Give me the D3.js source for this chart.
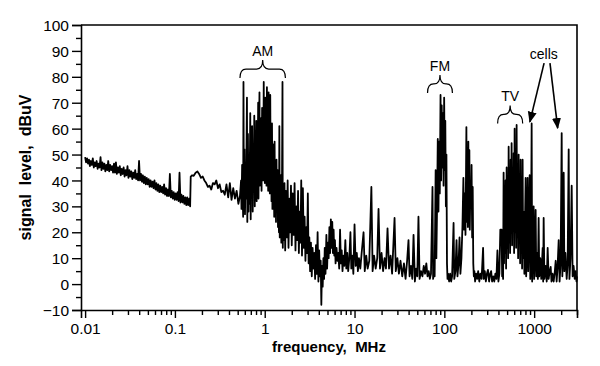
<!DOCTYPE html>
<html>
<head>
<meta charset="utf-8">
<script src="https://cdn.jsdelivr.net/npm/d3@7"></script>
<style>
    body { margin: 0; background: #fff; }
    svg { display: block; }
    text { font-family: "Liberation Sans", Arial, Helvetica, sans-serif; fill: #000; }
</style>
</head>
<body>
<svg id="chart" width="600" height="366"></svg>
<script>
// tick labels
const xTicks = [0.01, 0.1, 1, 10, 100, 1000]
const yTicks = [-10, 0, 10, 20, 30, 40, 50, 60, 70, 80, 90, 100]

const lowBand = [
    [0.0100, 49], [0.01025, 47], [0.01051, 48.5], [0.01077, 46.5], [0.01104, 48], [0.01131, 45.5],
    [0.0116, 47.5], [0.01189, 46], [0.01218, 48.5], [0.01249, 45], [0.0128, 47], [0.01312, 45.5],
    [0.01345, 47.5], [0.01379, 44.5], [0.01413, 46.5], [0.01448, 45], [0.01485, 49], [0.01522, 44],
    [0.0156, 47], [0.01599, 44.5], [0.01639, 46.5], [0.0168, 43.5], [0.01722, 46], [0.01765, 44],
    [0.01809, 47.5], [0.01854, 43.5], [0.019, 46], [0.01948, 44], [0.01997, 45.5], [0.02047, 43],
    [0.02098, 46.5], [0.0215, 43], [0.02204, 47], [0.02259, 42.5], [0.02316, 45], [0.02374, 43],
    [0.02433, 45.5], [0.02494, 42], [0.02556, 44.5], [0.0262, 42.5], [0.02686, 45], [0.02753, 41.5],
    [0.02822, 44], [0.02892, 42], [0.02965, 45.5], [0.03039, 41], [0.03115, 44], [0.03193, 41.5],
    [0.03272, 43.5], [0.03354, 40.5], [0.03438, 43], [0.03524, 41], [0.03612, 44], [0.03702, 40.5],
    [0.03795, 42.5], [0.0389, 40], [0.03987, 47.5], [0.04087, 40], [0.04189, 42.5], [0.04294, 39.5],
    [0.04401, 42], [0.04511, 39], [0.04624, 41.5], [0.0474, 38.5], [0.04858, 41], [0.0498, 38.5],
    [0.05104, 40.5], [0.05232, 37.5], [0.05363, 40], [0.05497, 37.5], [0.05634, 39.5], [0.05775, 37],
    [0.05919, 40], [0.06067, 36.5], [0.06219, 39], [0.06375, 36], [0.06534, 38.5], [0.06697, 35.5],
    [0.06865, 38], [0.07036, 35.5], [0.07212, 37.5], [0.07393, 35], [0.07577, 38.5], [0.07767, 34.5],
    [0.07961, 37], [0.0816, 34], [0.08364, 36.5], [0.08573, 34], [0.08787, 42.5], [0.09007, 33.5],
    [0.09232, 36], [0.09463, 33], [0.097, 35.5], [0.09942, 32.5], [0.1019, 35], [0.1045, 32.5],
    [0.1071, 35.5], [0.1098, 32], [0.1125, 43], [0.1153, 31.5], [0.1182, 34.5], [0.1212, 31.5],
    [0.1242, 34], [0.1273, 31], [0.1305, 33.5], [0.1338, 30.5], [0.1371, 33.5], [0.1405, 30.5],
    [0.1441, 33], [0.1477, 30],
    [0.150, 41.5], [0.155, 42], [0.162, 41.8], [0.170, 43], [0.178, 43.5], [0.186, 42.5],
    [0.195, 41], [0.204, 41.5], [0.213, 40], [0.223, 39], [0.233, 37.5], [0.243, 38],
    [0.254, 36.5], [0.265, 39], [0.277, 38.5], [0.289, 40], [0.302, 37], [0.315, 38.5],
    [0.329, 35.5], [0.344, 36], [0.359, 34.5], [0.375, 38.5], [0.392, 33.5], [0.409, 39],
    [0.427, 32.5], [0.446, 37], [0.466, 33], [0.487, 36], [0.509, 31], [0.530, 34], [0.545, 40]
]
const amBand = [
    [0.551, 29], [0.560, 46], [0.575, 26], [0.580, 78], [0.586, 30], [0.595, 52], [0.603, 27],
    [0.611, 44], [0.620, 33], [0.634, 72], [0.640, 24], [0.650, 58], [0.660, 28], [0.668, 47],
    [0.677, 31], [0.690, 66], [0.698, 25], [0.705, 55], [0.715, 34], [0.724, 61], [0.735, 28],
    [0.745, 50], [0.755, 40], [0.765, 65], [0.775, 30], [0.783, 57], [0.792, 35], [0.805, 63],
    [0.813, 32], [0.822, 48], [0.833, 40], [0.845, 70], [0.852, 33], [0.862, 55], [0.874, 74],
    [0.880, 38], [0.890, 60], [0.900, 42], [0.912, 64], [0.922, 36], [0.935, 68], [0.944, 45],
    [0.955, 58], [0.962, 40], [0.975, 78], [0.983, 46], [0.994, 66], [1.003, 39], [1.015, 72],
    [1.025, 44], [1.035, 62], [1.046, 38], [1.058, 76], [1.068, 47], [1.080, 65], [1.092, 36],
    [1.105, 74], [1.115, 43], [1.128, 60], [1.140, 35], [1.152, 73], [1.165, 40], [1.178, 57],
    [1.190, 32], [1.205, 62], [1.218, 29], [1.232, 54], [1.245, 33], [1.260, 50], [1.275, 26],
    [1.288, 55], [1.300, 30], [1.318, 46], [1.335, 24], [1.352, 48], [1.370, 28], [1.390, 44],
    [1.405, 22], [1.425, 40], [1.440, 20], [1.455, 61], [1.470, 18], [1.510, 42], [1.530, 16],
    [1.555, 35], [1.577, 78], [1.590, 14], [1.610, 33], [1.630, 17], [1.660, 39], [1.690, 13]
]
const hfBand = [
    [1.72, 36], [1.76, 18], [1.80, 40], [1.84, 14], [1.88, 33], [1.92, 20], [1.96, 38], [2.00, 15],
    [2.05, 35], [2.10, 19], [2.15, 39], [2.20, 13], [2.25, 30], [2.30, 17], [2.35, 36], [2.40, 12],
    [2.45, 28], [2.50, 16], [2.55, 40], [2.60, 11], [2.66, 37], [2.72, 14], [2.78, 26], [2.84, 9],
    [2.90, 22], [2.96, 12], [3.02, 35], [3.08, 8], [3.14, 18], [3.20, 5], [3.27, 16], [3.34, 3],
    [3.41, 14], [3.48, 6], [3.56, 12], [3.64, 2], [3.72, 15], [3.80, 4], [3.88, 20], [3.96, 1],
    [4.04, 13], [4.12, 3], [4.20, 9], [4.27, -8], [4.34, 7], [4.42, -1], [4.50, 10], [4.58, 2],
    [4.66, 14], [4.75, 4], [4.86, 19], [4.95, 6], [5.05, 16], [5.15, 10], [5.25, 22], [5.35, 12],
    [5.45, 25], [5.55, 14], [5.65, 24], [5.75, 12], [5.85, 21], [5.95, 11], [6.05, 17], [6.15, 8],
    [6.30, 14], [6.45, 9], [6.60, 12], [6.75, 6], [6.90, 21], [7.05, 8], [7.20, 13], [7.35, 5],
    [7.50, 11], [7.70, 7], [7.90, 17], [8.10, 6], [8.30, 12], [8.50, 5], [8.75, 10], [9.00, 20],
    [9.20, 6], [9.45, 11], [9.70, 4], [10.0, 23], [10.3, 7], [10.6, 12], [10.9, 5], [11.2, 10],
    [11.6, 6], [12.0, 12], [12.6, 20], [13.0, 5], [13.5, 11], [14.0, 6], [14.6, 9], [15.4, 37.5],
    [15.9, 5], [16.5, 11], [17.2, 6], [17.9, 10], [18.5, 29], [19.2, 6], [20.0, 12], [20.8, 5],
    [21.6, 10], [22.4, 6], [23.3, 21.5], [24.2, 6], [25.2, 11], [26.2, 4], [27.9, 25.5], [28.8, 5],
    [30.0, 10], [31.2, 4], [32.5, 9], [34.0, 3], [35.5, 8], [37.0, 2], [38.5, 9], [39.9, 17],
    [41.0, 3], [42.5, 7], [44.0, 2], [45.4, 19], [47.0, 1], [48.5, 6], [50.0, 3], [51.5, 26],
    [53.0, 2], [55.0, 5], [57.0, 3], [59.0, 7], [61.0, 4], [63.0, 8], [65.0, 3], [67.0, 5],
    [69.0, 2], [71.0, 4]
]
const fmBand = [
    [73.8, 37.5], [75.0, 2], [76.5, 6], [78.0, 3], [80.0, 44], [81.5, 10], [83.0, 30], [84.5, 56],
    [86.0, 28], [87.5, 55], [89.0, 35], [90.7, 73], [92.0, 40], [93.5, 69], [95.0, 45], [96.5, 66],
    [98.0, 38], [99.5, 72], [101.0, 44], [102.5, 63], [104.0, 30], [105.5, 50], [107.0, 8],
    [108.5, 2], [110.0, 4]
]
const vhfBand = [
    [113, 1], [116, 4], [119, 1], [122, 3], [126.7, 23.6], [129, 2], [133, 5], [136.7, 17],
    [140, 3], [144, 8], [147.6, 18], [151, 4], [155, 10], [159, 22], [163, 41], [166, 21],
    [169, 35], [172, 19], [176, 60.6], [178, 24], [181, 45], [183, 22], [185, 55], [187, 26],
    [190, 51.7], [192, 21], [195, 38], [198, 30], [201, 46], [204, 18], [207, 37.5], [210, 8],
    [213, 3], [216, 5], [220, 1], [226, 4], [232, 2], [238, 5], [245, 1], [252, 4], [260, 2],
    [270, 14], [275, 2], [282, 5], [290, 1], [298, 4], [306, 5.5], [315, 1], [324, 4], [332, 5],
    [340, 1], [350, 3], [360, 1], [370, 4], [380, 2], [390, 13], [400, 1], [410, 4], [420, 21]
]
const uhfBand = [
    [434, 21], [440, 3], [446, 10], [451, 2], [457, 43], [462, 8], [468, 30], [474, 12],
    [480, 40], [487, 6], [494, 45], [500, 14], [507, 35], [513, 10], [520, 53], [527, 16],
    [533, 40], [540, 12], [547, 48], [554, 20], [561, 54.4], [568, 15], [575, 44], [583, 22],
    [591, 50.5], [598, 12], [606, 60], [614, 20], [622, 45], [630, 14], [638, 61.4], [646, 18],
    [655, 42], [663, 10], [672, 50], [680, 16], [690, 38], [698, 8], [707, 48], [716, 14],
    [725, 33], [734, 6], [744, 48], [754, 10], [765, 28], [778, 4], [790, 22], [804, 41],
    [815, 3], [830, 18], [846, 41], [858, 5], [875, 20], [891, 42], [905, 2], [920, 12],
    [938, 62], [950, 1], [965, 14], [987, 30], [1000, 2], [1015, 10], [1039, 28.6], [1055, 3],
    [1080, 12], [1100, 2], [1122, 25.5], [1140, 3], [1170, 10], [1200, 2], [1244, 14], [1260, 1],
    [1276, 25.5], [1300, 2], [1340, 7], [1380, 1], [1414, 14], [1450, 2], [1490, 5], [1528, 6.6],
    [1560, 1], [1600, 4], [1650, 1], [1700, 5], [1737, 9], [1780, 1], [1820, 6], [1876, 17],
    [1920, 1], [1970, 8], [2026, 58.3], [2060, 3], [2100, 15], [2133, 43], [2170, 5], [2230, 12],
    [2303, 2], [2360, 8], [2424, 52], [2470, 2], [2540, 10], [2618, 38], [2680, 3], [2750, 7],
    [2829, 2], [2900, 5], [2960, 1], [3000, 3]
]

// annotations in data units: brace span and the level of the brace ends
const bands = [
    { label: 'AM', from: 0.53, to: 1.70, level: 79.5 },
    { label: 'FM', from: 65, to: 123, level: 73.8 },
    { label: 'TV', from: 392, to: 745, level: 62 }
]
const cellLabel = { label: 'cells', at: 1280, level: 87 }
const cellArrows = [
    { from: [1290, 85.3], to: [896, 62.6] },
    { from: [1500, 85.3], to: [1828, 60.2] }
]

const spectrum = [].concat(lowBand, amBand, hfBand, fmBand, vhfBand, uhfBand)

const svg = d3.select('#chart')
const margin = { top: 25, right: 23, bottom: 56, left: 81 }
const width = 600 - margin.left - margin.right
const height = 366 - margin.top - margin.bottom

const x = d3.scaleLog().domain([0.009, 3000]).range([0, width])
const y = d3.scaleLinear().domain([-10, 100]).range([height, 0])

const g = svg.append('g').attr('transform', `translate(${margin.left},${margin.top})`)

// minor ticks
const xMinor = x.ticks().filter(t => !xTicks.includes(t) && t >= 0.01 && t <= 3000)
g.append('g')
    .attr('transform', `translate(0,${height})`)
    .call(d3.axisBottom(x).tickValues(xMinor).tickSize(5).tickFormat(''))
    .call(a => a.select('.domain').remove())
g.append('g')
    .call(d3.axisLeft(y).tickValues(d3.range(-5, 100, 10)).tickSize(5).tickFormat(''))
    .call(a => a.select('.domain').remove())

// main axes
const xAxis = g.append('g')
    .attr('transform', `translate(0,${height})`)
    .call(d3.axisBottom(x).tickValues(xTicks).tickSize(8).tickPadding(5).tickFormat(d3.format('~g')))
const yAxis = g.append('g')
    .call(d3.axisLeft(y).tickValues(yTicks).tickSize(9).tickPadding(3)
        .tickFormat(d => d < 0 ? '\u2212' + Math.abs(d) : d))

svg.selectAll('.tick line').attr('stroke', '#000').attr('stroke-width', 1.4)
svg.selectAll('.domain').attr('stroke', '#000').attr('stroke-width', 1.6)
svg.selectAll('.tick text').attr('font-size', 15.5).attr('fill', '#000')
    .attr('font-family', '"Liberation Sans", Arial, sans-serif')
yAxis.selectAll('.tick text').attr('dy', '0.36em')

// frame top and right
g.append('path')
    .attr('d', `M0,0H${width}V${height}`)
    .attr('fill', 'none').attr('stroke', '#000').attr('stroke-width', 1.6)

// spectrum line
const line = d3.line().x(d => x(d[0])).y(d => y(d[1]))
g.append('path')
    .datum(spectrum)
    .attr('d', line)
    .attr('fill', 'none')
    .attr('stroke', '#000')
    .attr('stroke-width', 1.8)
    .attr('stroke-linejoin', 'round')

// braces
const brace = (x0, x1, yb) => {
    const ym = yb - 9, yt = yb - 18, xc = (x0 + x1) / 2, r = 6
    return `M${x0},${yb}Q${x0},${ym} ${x0 + r},${ym}L${xc - r},${ym}Q${xc},${ym} ${xc},${yt}` +
        `Q${xc},${ym} ${xc + r},${ym}L${x1 - r},${ym}Q${x1},${ym} ${x1},${yb}`
}
const ann = g.selectAll('.band').data(bands).enter().append('g').attr('class', 'band')
ann.append('path')
    .attr('d', d => brace(x(d.from), x(d.to), y(d.level)))
    .attr('fill', 'none').attr('stroke', '#000').attr('stroke-width', 1.2)
ann.append('text')
    .attr('x', d => (x(d.from) + x(d.to)) / 2)
    .attr('y', d => y(d.level) - 22)
    .attr('text-anchor', 'middle')
    .attr('font-size', 14)
    .text(d => d.label)

// cells label with arrows
svg.append('defs').append('marker')
    .attr('id', 'arrow')
    .attr('viewBox', '0 0 10 10')
    .attr('refX', 9).attr('refY', 5)
    .attr('markerWidth', 7).attr('markerHeight', 7)
    .attr('orient', 'auto')
    .append('path').attr('d', 'M0,1L10,5L0,9Z').attr('fill', '#000')
g.append('text')
    .attr('x', x(cellLabel.at))
    .attr('y', y(cellLabel.level))
    .attr('text-anchor', 'middle')
    .attr('font-size', 14)
    .text(cellLabel.label)
g.selectAll('.arrow').data(cellArrows).enter().append('line')
    .attr('x1', d => x(d.from[0])).attr('y1', d => y(d.from[1]))
    .attr('x2', d => x(d.to[0])).attr('y2', d => y(d.to[1]))
    .attr('stroke', '#000').attr('stroke-width', 1.6)
    .attr('marker-end', 'url(#arrow)')

// axis titles
svg.append('text')
    .attr('x', margin.left + width / 2)
    .attr('y', 352)
    .attr('text-anchor', 'middle')
    .attr('font-size', 15).attr('font-weight', 'bold')
    .attr('xml:space', 'preserve')
    .text('frequency,  MHz')
svg.append('text')
    .attr('transform', `translate(31,${margin.top + height / 2}) rotate(-90)`)
    .attr('text-anchor', 'middle')
    .attr('font-size', 16).attr('font-weight', 'bold')
    .attr('xml:space', 'preserve')
    .text('signal  level,  dBuV')
</script>
</body>
</html>
